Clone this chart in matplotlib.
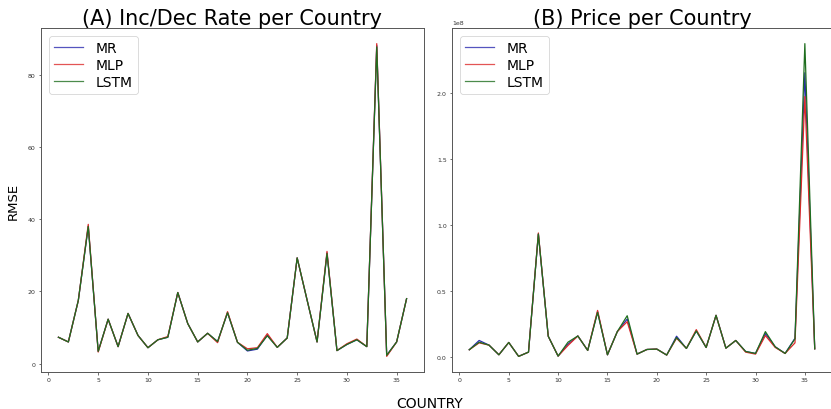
import numpy as np
import matplotlib
matplotlib.use("Agg")
import matplotlib.pyplot as plt

countries = list(range(1, 37))

rate_mr = [7.3, 6.0, 17.5, 38.0, 3.4, 12.3, 4.7, 13.9, 7.8, 4.4, 6.6, 7.3, 19.7, 11.1, 6.0, 8.4, 6.1, 14.1,
           5.9, 3.5, 4.0, 7.9, 4.5, 7.1, 29.3, 17.6, 6.0, 30.7, 3.6, 5.3, 6.6, 4.7, 88.2, 2.3, 6.0, 18.0]
rate_mlp = [7.3, 6.0, 17.5, 38.6, 3.2, 12.3, 4.7, 13.9, 7.8, 4.4, 6.6, 7.5, 19.7, 11.1, 6.0, 8.4, 5.8, 14.4,
            5.9, 4.1, 4.4, 8.3, 4.5, 7.1, 29.3, 17.6, 6.0, 31.1, 3.6, 5.5, 6.8, 4.7, 88.7, 2.0, 6.0, 18.0]
rate_lstm = [7.3, 6.0, 17.5, 38.0, 3.4, 12.3, 4.7, 13.9, 7.8, 4.4, 6.6, 7.3, 19.7, 11.1, 6.0, 8.4, 6.1, 14.1,
             5.9, 3.7, 4.2, 7.7, 4.5, 7.1, 29.3, 17.6, 6.0, 30.5, 3.6, 5.3, 6.6, 4.7, 87.8, 2.3, 6.0, 18.0]

price_mr = [0.058, 0.128, 0.093, 0.020, 0.113, 0.008, 0.040, 0.932, 0.160, 0.010, 0.100, 0.162, 0.053, 0.345,
            0.020, 0.195, 0.290, 0.025, 0.060, 0.063, 0.018, 0.160, 0.068, 0.200, 0.075, 0.318, 0.070, 0.128,
            0.045, 0.030, 0.180, 0.080, 0.030, 0.145, 2.150, 0.065]
price_mlp = [0.058, 0.110, 0.093, 0.020, 0.113, 0.008, 0.040, 0.940, 0.160, 0.010, 0.090, 0.162, 0.053, 0.355,
             0.020, 0.195, 0.270, 0.025, 0.060, 0.063, 0.018, 0.145, 0.068, 0.210, 0.075, 0.318, 0.070, 0.128,
             0.040, 0.025, 0.165, 0.075, 0.030, 0.110, 1.970, 0.065]
price_lstm = [0.058, 0.115, 0.093, 0.020, 0.113, 0.008, 0.040, 0.932, 0.160, 0.010, 0.115, 0.162, 0.053, 0.340,
              0.020, 0.195, 0.315, 0.025, 0.060, 0.063, 0.018, 0.150, 0.068, 0.200, 0.075, 0.318, 0.070, 0.128,
              0.045, 0.030, 0.195, 0.080, 0.030, 0.140, 2.370, 0.065]
price_scale = 1e8

models = ["MR", "MLP", "LSTM"]
colors = ["#2a2ab0", "#dd2a2a", "#1f6e1f"]

fig = plt.figure(figsize=(8.31, 4.10), dpi=100)
W, H = 831, 410
ax1 = fig.add_axes([41 / W, 1 - 373 / H, (424 - 41) / W, (373 - 29) / H])
ax2 = fig.add_axes([452 / W, 1 - 373 / H, (832 - 452) / W, (373 - 29) / H])

for ax, series, title in [
    (ax1, [rate_mr, rate_mlp, rate_lstm], "(A) Inc/Dec Rate per Country"),
    (ax2, [[v * price_scale for v in price_mr], [v * price_scale for v in price_mlp],
           [v * price_scale for v in price_lstm]], "(B) Price per Country"),
]:
    for name, col, vals in zip(models, colors, series):
        ax.plot(countries, vals, color=col, lw=0.9, label=name)
    ax.set_title(title, fontsize=15, pad=2.5)
    ax.tick_params(labelsize=4.5, length=1.8, width=0.5, pad=2.0, colors="#333333")
    for sp in ax.spines.values():
        sp.set_linewidth(0.7)
        sp.set_color("#555555")
    ax.set_xticks([0, 5, 10, 15, 20, 25, 30, 35])
    ax.yaxis.get_offset_text().set_fontsize(4.5)
    leg = ax.legend(loc="upper left", fontsize=10, labelspacing=0.2, borderpad=0.35,
                    handlelength=2.1, handletextpad=0.9, borderaxespad=0.6)
    leg.get_frame().set_linewidth(0.6)
    for lh in leg.get_lines():
        lh.set_alpha(0.8)

ax1.set_yticks([0, 20, 40, 60, 80])
ax1.set_ylabel("RMSE", fontsize=9.5, labelpad=6)
fig.text(430 / W, 1 - 404 / H, "COUNTRY", fontsize=10, ha="center", va="center")

fig.savefig("out.png", dpi=100)
